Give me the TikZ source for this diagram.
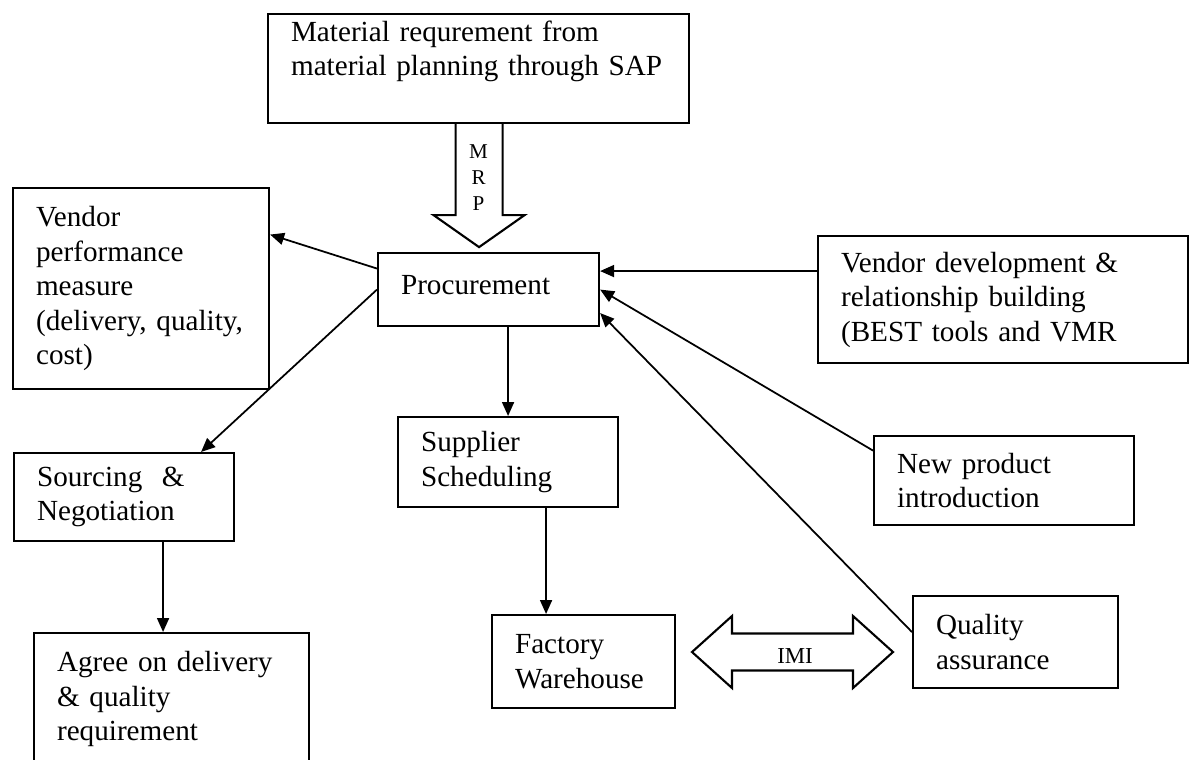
\documentclass[tikz,border=0pt]{standalone}
\usepackage{fontspec}
\setmainfont{Liberation Serif}
\usepackage{tikz}
\usetikzlibrary{positioning, arrows.meta, calc}
\definecolor{InkColor}{RGB}{0,0,0}
\newcommand{\boxfont}{\fontsize{8.3}{9.8}\selectfont}
\tikzstyle{arrow} = [line width=0.5pt, InkColor, ->, >={Triangle[length=1.4mm,width=1.2mm]}]
\tikzset{
  block/.style={draw=InkColor, line width=0.6pt, rectangle, anchor=north west, align=left, inner xsep=0.23cm, font=\boxfont},
  fat arrow/.style={draw=InkColor, line width=0.6pt, line join=miter},
  letters/.style={inner sep=0pt, align=center, font=\fontsize{6}{7.4}\selectfont}
}

\begin{document}
\begin{tikzpicture}[x=1cm, y=-1cm]
            \fill[white] (0,0) rectangle (11.93,7.59);
            \useasboundingbox (0,0) rectangle (11.93,7.59);

            % Boxes
            \node[block, text width=3.75cm, inner ysep=0.07cm, text height=0.2cm, text depth=0.75cm] (mat) at (2.67,0.13) {Material requrement from\\material planning through SAP};
            \node[block, text width=2.10cm, minimum height=2.01cm] (vperf) at (0.12,1.87) {Vendor\\performance\\measure\\(delivery, quality,\\cost)};
            \node[block, text width=1.75cm, minimum height=0.73cm, text depth=0.1cm] (proc) at (3.77,2.52) {Procurement};
            \node[block, text width=3.24cm, minimum height=1.27cm] (vdev) at (8.17,2.35) {Vendor development \&\\relationship building\\(BEST tools and VMR};
            \node[block, text width=1.74cm, minimum height=0.88cm] (sourc) at (0.13,4.52) {Sourcing \ \&\\Negotiation};
            \node[block, text width=1.74cm, minimum height=0.90cm] (sched) at (3.97,4.16) {Supplier\\Scheduling};
            \node[block, text width=2.14cm, minimum height=0.89cm] (newprod) at (8.73,4.35) {New product\\introduction};
            \node[block, text width=2.29cm, minimum height=1.32cm] (agree) at (0.33,6.32) {Agree on delivery\\\& quality\\requirement};
            \node[block, text width=1.37cm, minimum height=0.93cm] (factory) at (4.91,6.14) {Factory\\Warehouse};
            \node[block, text width=1.59cm, minimum height=0.92cm] (quality) at (9.12,5.95) {Quality\\assurance};

            % MRP feed into procurement
            \draw[fat arrow] ($(mat.south)+(-0.23,0)$) -- ++(0,0.91) -- ++(-0.22,0) -- ++(0.455,0.32) -- ++(0.455,-0.32) -- ++(-0.22,0) -- ++(0,-0.91);
            \node[letters, below=0.2cm of mat.south] (mrp) {M\\R\\P};

            % IMI link between warehouse and quality
            \coordinate (imiL) at (6.92,6.52);
            \draw[fat arrow] (imiL) -- ++(0.40,-0.36) -- ++(0,0.175) -- ++(1.21,0) -- ++(0,-0.175) -- ++(0.40,0.36) -- ++(-0.40,0.36) -- ++(0,-0.175) -- ++(-1.21,0) -- ++(0,0.175) -- cycle;
            \node[letters, font=\fontsize{6.5}{7}\selectfont] (imi) at (7.95,6.56) {IMI};

            % Arrows out of procurement
            \draw[arrow] ([yshift=2.1mm]proc.west) -- ([yshift=5.4mm]vperf.east);
            \draw[arrow] (proc.west) -- ([xshift=7.7mm]sourc.north);
            \draw[arrow] (sched.north |- proc.south) -- (sched.north);

            % Follow-on steps
            \coordinate (s1) at ([xshift=3.9mm]sourc.south);
            \draw[arrow] (s1) -- (s1 |- agree.north);
            \coordinate (s2) at ([xshift=3.8mm]sched.south);
            \draw[arrow] (s2) -- (s2 |- factory.north);

            % Inputs to procurement
            \coordinate (v1) at ([yshift=2.85mm]vdev.west);
            \draw[arrow] (v1) -- (v1 -| proc.east);
            \draw[arrow] ([yshift=3mm]newprod.west) -- (proc.east);
            \draw[arrow] ([yshift=1mm]quality.west) -- ([yshift=-2.35mm]proc.east);
        \end{tikzpicture}
\end{document}
